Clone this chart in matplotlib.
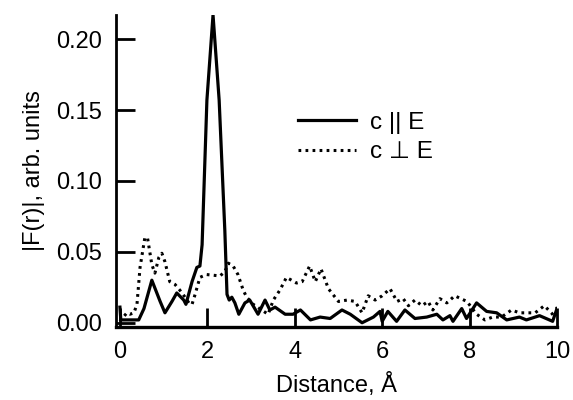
import matplotlib
matplotlib.use("Agg")
import matplotlib.pyplot as plt

plt.rcParams.update({
    "font.family": ["Liberation Sans", "DejaVu Sans"],
    "font.size": 17,
})

# |F(r)| for c || E (solid)
r_par = [0.0, 0.02, 0.1, 0.2, 0.43, 0.55, 0.73, 0.92, 1.03, 1.19, 1.30, 1.46, 1.51,
         1.65, 1.76, 1.83, 1.88, 1.99, 2.13, 2.27, 2.40, 2.45, 2.50, 2.56, 2.63, 2.72,
         2.86, 2.97, 3.16, 3.32, 3.43, 3.55, 3.78, 3.96, 4.13, 4.36, 4.58, 4.81, 5.08,
         5.27, 5.54, 5.80, 5.95, 6.00, 6.13, 6.33, 6.52, 6.75, 7.02, 7.25, 7.39, 7.55,
         7.62, 7.82, 7.93, 8.16, 8.39, 8.62, 8.85, 9.14, 9.30, 9.60, 9.90, 10.0]
f_par = [0.011, 0.002, 0.002, 0.002, 0.002, 0.010, 0.030, 0.015, 0.007, 0.015, 0.021,
         0.016, 0.013, 0.029, 0.039, 0.040, 0.055, 0.157, 0.217, 0.157, 0.065, 0.020,
         0.016, 0.018, 0.014, 0.006, 0.014, 0.016, 0.006, 0.016, 0.009, 0.011, 0.006,
         0.006, 0.009, 0.002, 0.004, 0.003, 0.009, 0.006, 0.0, 0.004, 0.008, 0.001,
         0.008, 0.001, 0.009, 0.003, 0.004, 0.006, 0.002, 0.005, 0.001, 0.010, 0.003,
         0.014, 0.008, 0.007, 0.002, 0.004, 0.002, 0.005, 0.001, 0.010]

# |F(r)| for c ⊥ E (dotted)
r_perp = [0.0, 0.05, 0.16, 0.23, 0.32, 0.39, 0.46, 0.57, 0.63, 0.73, 0.80, 0.89, 0.96,
          1.03, 1.14, 1.26, 1.37, 1.49, 1.60, 1.65, 1.72, 1.83, 1.98, 2.29, 2.40, 2.48,
          2.59, 2.70, 2.82, 2.90, 3.05, 3.24, 3.39, 3.51, 3.66, 3.81, 4.04, 4.17, 4.34,
          4.47, 4.60, 4.77, 5.00, 5.20, 5.38, 5.54, 5.68, 5.84, 6.00, 6.18, 6.34, 6.48,
          6.60, 6.75, 6.91, 7.05, 7.16, 7.32, 7.48, 7.66, 7.94, 8.16, 8.35, 8.53, 8.73,
          8.96, 9.14, 9.37, 9.50, 9.71, 9.87, 9.95, 10.0]
f_perp = [0.001, 0.003, 0.007, 0.006, 0.007, 0.013, 0.039, 0.060, 0.060, 0.041, 0.035,
          0.046, 0.049, 0.043, 0.029, 0.027, 0.023, 0.018, 0.013, 0.013, 0.020, 0.032,
          0.034, 0.033, 0.036, 0.042, 0.040, 0.034, 0.023, 0.018, 0.013, 0.009, 0.006,
          0.016, 0.023, 0.032, 0.028, 0.029, 0.040, 0.029, 0.038, 0.024, 0.015, 0.016,
          0.015, 0.007, 0.019, 0.016, 0.019, 0.024, 0.015, 0.017, 0.012, 0.016, 0.012,
          0.015, 0.009, 0.017, 0.014, 0.019, 0.015, 0.006, 0.002, 0.004, 0.004, 0.009,
          0.007, 0.007, 0.007, 0.012, 0.007, 0.004, 0.011]

x_ticks = [0, 2, 4, 6, 8, 10]
y_ticks = [0.00, 0.05, 0.10, 0.15, 0.20]

fig = plt.figure(figsize=(5.73, 4.0), dpi=100)
ax = fig.add_axes([116 / 573, 73 / 400, 441 / 573, 312 / 400])

ax.plot(r_par, f_par, "-", color="black", lw=2.3, label="c || E")
ax.plot(r_perp, f_perp, color="black", lw=2.2, linestyle=(0, (0.9, 1.4)), label="c ⊥ E")

ax.set_xlim(-0.09, 10.0)
ax.set_ylim(-0.003, 0.217)
ax.set_xticks(x_ticks)
ax.set_yticks(y_ticks)
ax.set_yticklabels([f"{v:.2f}" for v in y_ticks])

for s in ("top", "right"):
    ax.spines[s].set_visible(False)
ax.spines["left"].set_linewidth(2.0)
ax.spines["bottom"].set_linewidth(2.4)
ax.tick_params(axis="both", direction="in", length=14, width=2.0, pad=10)

ax.set_xlabel("Distance, Å", labelpad=7)
ax.set_ylabel("|F(r)|, arb. units", labelpad=8)

ax.legend(loc="upper left", bbox_to_anchor=(0.413, 0.69), frameon=False,
          borderpad=0, borderaxespad=0, handlelength=2.4, handletextpad=0.55,
          labelspacing=0.3, fontsize=17.5)

fig.savefig("out.png", dpi=100)
